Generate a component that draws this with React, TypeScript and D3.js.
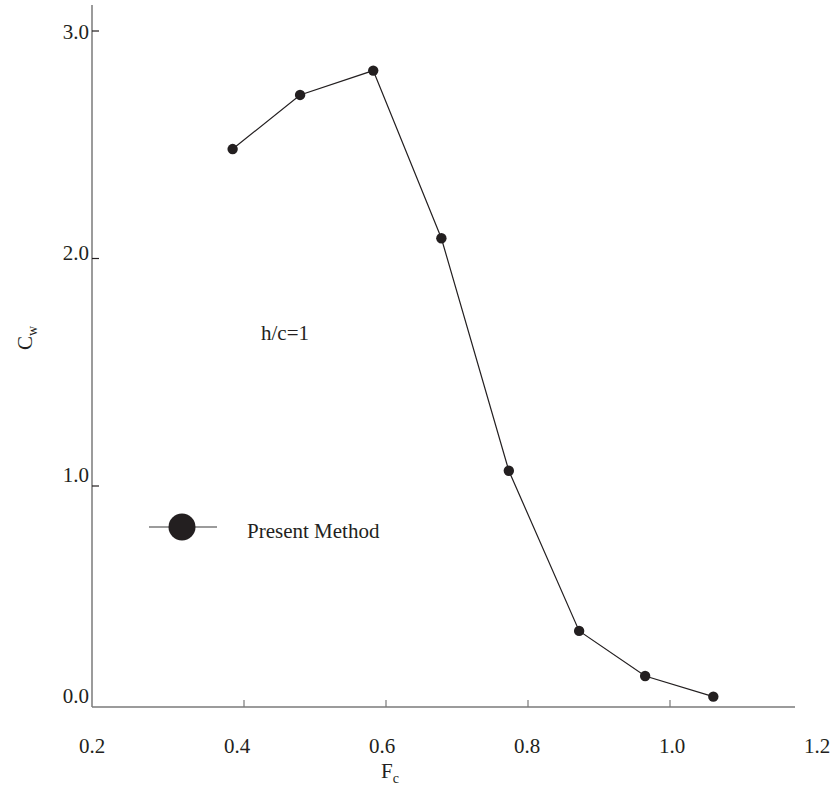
import React from "react";
import * as d3 from "d3";

const fcValues = [0.384, 0.479, 0.582, 0.678, 0.773, 0.872, 0.965, 1.061];
const cwValues = [2.481, 2.719, 2.826, 2.089, 1.067, 0.363, 0.165, 0.074];
const xTickValues = [0.4, 0.6, 0.8, 1.0];
const xTickLabels = ["0.2", "0.4", "0.6", "0.8", "1.0", "1.2"];
const yTickValues = [1.0, 2.0, 3.0];
const yTickLabels = ["0.0", "1.0", "2.0", "3.0"];
const seriesName = "Present Method";
const annotation = "h/c=1";

const W = 832;
const H = 807;
const TEXT = "#231f20";
const AXIS = "#7a7a7a";
const FONT = "'Liberation Serif', 'Times New Roman', serif";
const FS = 21;

export default function App() {
  // data / tick scales
  const x = d3.scaleLinear().domain([0.4, 1.0]).range([244, 670]);
  const y = d3.scaleLinear().domain([1.0, 3.0]).range([486, 31]);
  // label placement scales (labels in the original are slightly offset from ticks)
  const xLab = d3.scaleLinear().domain([0.2, 1.2]).range([92, 817]);
  const yLab = d3.scaleLinear().domain([0, 3]).range([703, 39]);

  const x0 = 92, x1 = 795, yAxisTop = 5, yAxisBottom = 707;

  const line = d3
    .line<number>()
    .x((_, i) => x(fcValues[i]))
    .y((d) => y(d));

  return (
    <svg
      width={W}
      height={H}
      style={{ position: "absolute", left: 0, top: 0, background: "#fff" }}
      fontFamily={FONT}
    >
      <rect width={W} height={H} fill="#fff" />
      {/* axes */}
      <line x1={x0} y1={yAxisTop} x2={x0} y2={yAxisBottom} stroke={AXIS} strokeWidth={1.5} />
      <line x1={x0} y1={yAxisBottom} x2={x1} y2={yAxisBottom} stroke={AXIS} strokeWidth={1.5} />
      {xTickValues.map((v) => (
        <line key={"xt" + v} x1={x(v)} x2={x(v)} y1={yAxisBottom} y2={yAxisBottom - 7} stroke={AXIS} strokeWidth={1.2} />
      ))}
      {yTickValues.map((v) => (
        <line key={"yt" + v} x1={x0} x2={x0 + 7} y1={y(v)} y2={y(v)} stroke={TEXT} strokeWidth={1.2} />
      ))}
      {xTickLabels.map((t) => (
        <text key={"xl" + t} x={xLab(+t)} y={753} textAnchor="middle" fontSize={FS} fill={TEXT}>
          {t}
        </text>
      ))}
      {yTickLabels.map((t) => (
        <text key={"yl" + t} x={89} y={yLab(+t)} textAnchor="end" fontSize={FS} fill={TEXT}>
          {t}
        </text>
      ))}
      {/* axis titles */}
      <text x={381} y={778} fontSize={FS} fill={TEXT}>
        F<tspan fontSize={14} dy={5}>c</tspan>
      </text>
      <text transform="translate(32,350) rotate(-90)" fontSize={FS} fill={TEXT}>
        C<tspan fontSize={14} dy={5}>w</tspan>
      </text>
      {/* series */}
      <path d={line(cwValues) || ""} fill="none" stroke={TEXT} strokeWidth={1.2} />
      {cwValues.map((v, i) => (
        <circle key={"p" + i} cx={x(fcValues[i])} cy={y(v)} r={5.2} fill={TEXT} />
      ))}
      {/* annotation */}
      <text x={261} y={340} fontSize={FS} fill={TEXT}>
        {annotation}
      </text>
      {/* legend */}
      <line x1={149} x2={217} y1={527} y2={527} stroke={AXIS} strokeWidth={1.5} />
      <circle cx={182} cy={527} r={13.5} fill={TEXT} />
      <text x={247} y={538} fontSize={FS} fill={TEXT}>
        {seriesName}
      </text>
    </svg>
  );
}
